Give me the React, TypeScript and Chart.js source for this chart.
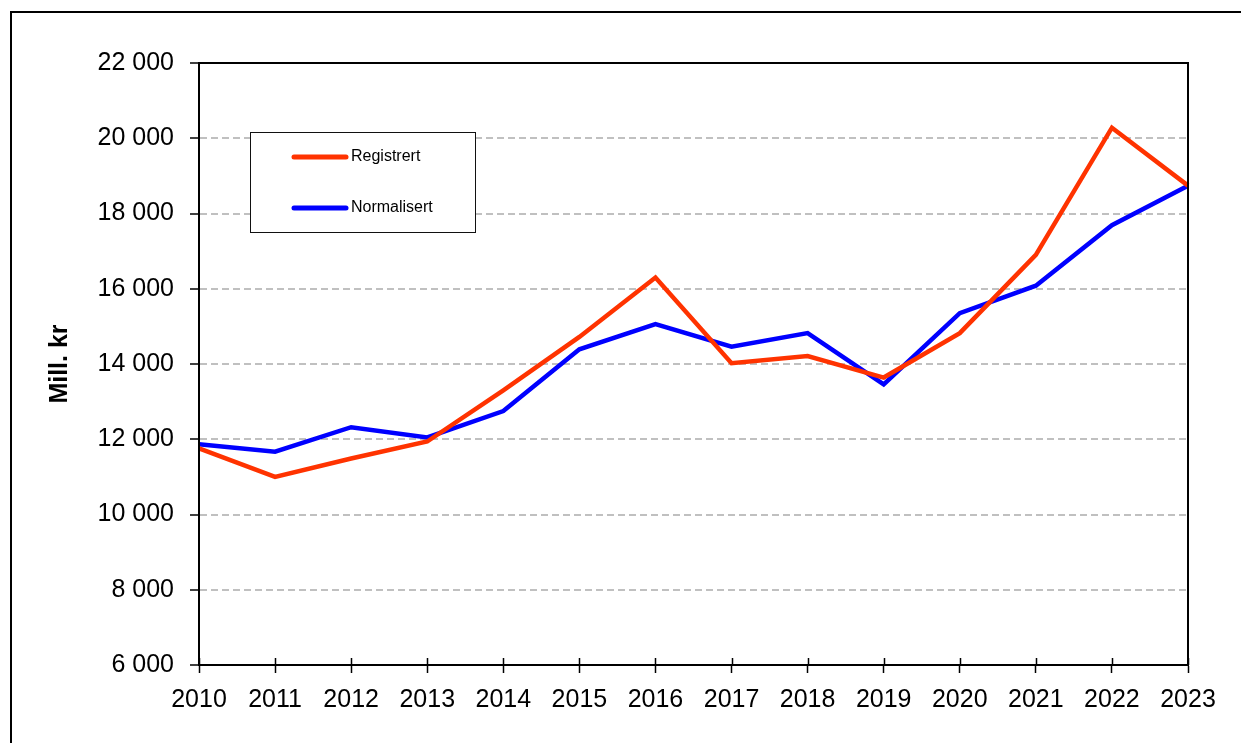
import React, { useEffect, useRef } from "react";
import { Chart, registerables } from "chart.js";

Chart.register(...registerables);

const years = ["2010", "2011", "2012", "2013", "2014", "2015", "2016", "2017", "2018", "2019", "2020", "2021", "2022", "2023"];
const registrert = [11760, 11000, 11490, 11940, 13300, 14720, 16300, 14020, 14210, 13640, 14820, 16900, 20280, 18740];
const normalisert = [11870, 11670, 12320, 12050, 12750, 14390, 15060, 14460, 14820, 13460, 15350, 16080, 17690, 18740];
const seriesLabels = ["Registrert", "Normalisert"];
const seriesColors = ["#FF3300", "#0000FF"];
const yTitle = "Mill. kr";

const FONT = "'Liberation Sans', Arial, sans-serif";

const framePlugin = {
  id: "frame",
  afterDraw(chart: any) {
    const { ctx, chartArea } = chart;
    const { left, top, right, bottom } = chartArea;
    ctx.save();
    // inner tick marks on x axis
    const xs = chart.scales.x;
    ctx.strokeStyle = "#000";
    ctx.lineWidth = 1.5;
    ctx.beginPath();
    xs.ticks.forEach((_t: any, i: number) => {
      const px = Math.round(xs.getPixelForTick(i)) + 0.5;
      ctx.moveTo(px, bottom - 7);
      ctx.lineTo(px, bottom);
    });
    ctx.stroke();
    // plot border
    ctx.lineWidth = 2;
    ctx.strokeStyle = "#000";
    ctx.strokeRect(left, top, right - left, bottom - top);
    // legend box
    const bx = 250.5, by = 132.5, bw = 225, bh = 100;
    ctx.fillStyle = "#fff";
    ctx.fillRect(bx, by, bw, bh);
    ctx.lineWidth = 1;
    ctx.strokeStyle = "#111";
    ctx.strokeRect(bx, by, bw, bh);
    chart.data.datasets.forEach((ds: any, i: number) => {
      const y = i === 0 ? 157 : 208;
      ctx.strokeStyle = ds.borderColor;
      ctx.lineWidth = 5;
      ctx.lineCap = "round";
      ctx.beginPath();
      ctx.moveTo(294, y);
      ctx.lineTo(346, y);
      ctx.stroke();
      ctx.fillStyle = "#000";
      ctx.font = `16px ${FONT}`;
      ctx.textBaseline = "middle";
      ctx.textAlign = "left";
      ctx.fillText(ds.label, 351, y);
    });
    ctx.restore();
  },
};

export default function App() {
  const ref = useRef<HTMLCanvasElement>(null);
  useEffect(() => {
    if (!ref.current) return;
    const chart = new Chart(ref.current, {
      type: "line",
      data: {
        labels: years,
        datasets: [
          {
            label: seriesLabels[0],
            data: registrert,
            borderColor: seriesColors[0],
            backgroundColor: seriesColors[0],
            borderWidth: 4.5,
            pointRadius: 0,
            tension: 0,
          },
          {
            label: seriesLabels[1],
            data: normalisert,
            borderColor: seriesColors[1],
            backgroundColor: seriesColors[1],
            borderWidth: 4.5,
            pointRadius: 0,
            tension: 0,
          },
        ],
      },
      options: {
        animation: false,
        responsive: false,
        maintainAspectRatio: false,
        layout: { padding: { left: 45, top: 63, right: 53, bottom: 0 } },
        plugins: { legend: { display: false }, tooltip: { enabled: false } },
        scales: {
          x: {
            offset: false,
            grid: {
              drawOnChartArea: false,
              drawTicks: true,
              tickLength: 8,
              tickColor: "#000",
              tickWidth: 1.5,
            },
            border: { display: true, color: "#000", width: 2 },
            ticks: {
              color: "#000",
              font: { family: FONT, size: 25 },
              padding: 12,
              maxRotation: 0,
              autoSkip: false,
            },
            afterFit: (s: any) => {
              s.height = 78;
            },
          },
          y: {
            min: 6000,
            max: 22000,
            grid: {
              color: "#C0C0C0",
              lineWidth: 2,
              drawTicks: true,
              tickLength: 9,
              tickColor: "#000",
              tickWidth: 1.5,
              tickBorderDash: [],
            },
            border: { display: true, color: "#000", width: 2, dash: [7, 4] },
            ticks: {
              stepSize: 2000,
              color: "#000",
              font: { family: FONT, size: 25 },
              padding: 16,
              callback: (v: any) => {
                const n = Number(v);
                const th = Math.floor(n / 1000);
                const rest = String(n % 1000).padStart(3, "0");
                return th > 0 ? `${th} ${rest}` : String(n);
              },
            },
            title: {
              display: true,
              text: yTitle,
              color: "#000",
              font: { family: FONT, size: 25, weight: "bold" },
              padding: 0,
            },
            afterFit: (s: any) => {
              s.width = 154;
            },
          },
        },
      },
      plugins: [framePlugin],
    });
    return () => chart.destroy();
  }, []);

  return (
    <div
      style={{
        position: "fixed",
        left: 0,
        top: 0,
        width: 1241,
        height: 743,
        overflow: "hidden",
        background: "#fff",
      }}
    >
      <div
        style={{
          position: "absolute",
          left: 10,
          top: 11,
          width: 1400,
          height: 900,
          border: "2px solid #000",
        }}
      />
      <canvas
        ref={ref}
        width={1241}
        height={743}
        style={{ position: "absolute", left: 0, top: 0, width: 1241, height: 743 }}
      />
    </div>
  );
}
